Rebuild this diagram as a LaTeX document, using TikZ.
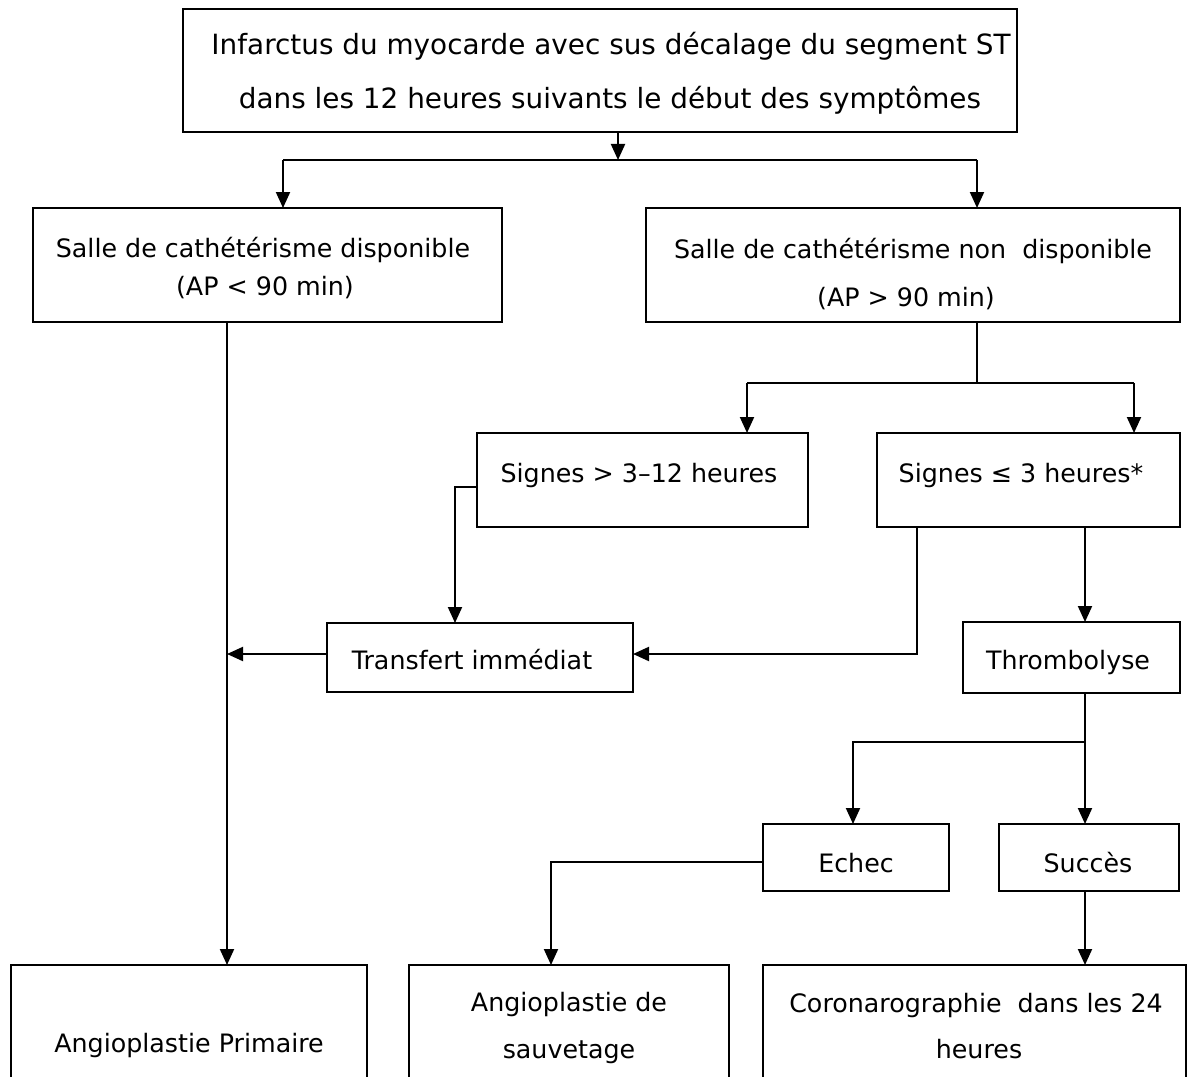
\documentclass[tikz,border=0pt]{standalone}
\usepackage{fontspec}
\setmainfont{DejaVu Sans}
\usetikzlibrary{fit,arrows.meta}
\tikzset{
  box/.style={draw, line width=1.5pt, inner sep=0pt, outer sep=0pt, rectangle},
  txt/.style={inner sep=0pt, anchor=base, font=\fontsize{19}{23}\selectfont},
  bigtxt/.style={txt, font=\fontsize{20.9}{25}\selectfont},
  arr/.style={line width=1.5pt, -{Triangle[length=12pt,width=10.5pt]}},
  ln/.style={line width=1.5pt}
}
\begin{document}
\begin{tikzpicture}[x=0.75pt,y=-0.75pt]
\useasboundingbox (0,0) rectangle (1188,1077);
\clip (0,0) rectangle (1188,1077);
% boxes
\node[box, fit={(183,9) (1017,132)}] (top) {};
\node[box, fit={(33,208) (502,322)}] (sal1) {};
\node[box, fit={(646,208) (1180,322)}] (sal2) {};
\node[box, fit={(477,433) (808,527)}] (sig1) {};
\node[box, fit={(877,433) (1180,527)}] (sig2) {};
\node[box, fit={(327,623) (633,692)}] (trans) {};
\node[box, fit={(963,622) (1180,693)}] (thromb) {};
\node[box, fit={(763,824) (949,891)}] (echec) {};
\node[box, fit={(999,824) (1179,891)}] (succes) {};
\node[box, fit={(11,965) (367,1110)}] (prim) {};
\node[box, fit={(409,965) (729,1110)}] (sauv) {};
\node[box, fit={(763,965) (1186,1110)}] (coro) {};
% texts
\node[bigtxt] (t1a) at (611,55) {Infarctus du myocarde avec sus décalage du segment ST};
\node[bigtxt] (t1b) at (610,109) {dans les 12 heures suivants le début des symptômes};
\node[txt] (t2a) at (263,257) {Salle de cathétérisme disponible};
\node[txt] (t2b) at (265,295) {(AP < 90 min)};
\node[txt] (t3a) at (913,258) {Salle de cathétérisme non\ \ disponible};
\node[txt] (t3b) at (906,306) {(AP > 90 min)};
\node[txt] (t4) at (639,482) {Signes > 3–12 heures};
\node[txt] (t5) at (1021,482) {Signes ≤ 3 heures*};
\node[txt] (t6) at (472,669) {Transfert immédiat};
\node[txt] (t7) at (1068,669) {Thrombolyse};
\node[txt] (t8) at (856,872) {Echec};
\node[txt] (t9) at (1088,872) {Succès};
\node[txt] (t10) at (189,1052) {Angioplastie Primaire};
\node[txt] (t11a) at (569,1011) {Angioplastie de};
\node[txt] (t11b) at (569,1058) {sauvetage};
\node[txt] (t12a) at (976,1012) {Coronarographie\ \ dans les 24};
\node[txt] (t12b) at (979,1058) {heures};
% junction coordinates
\coordinate (j1) at (618,160);
\coordinate (j1L) at (283,160);
\coordinate (j1R) at (977,160);
\coordinate (vL) at (227,0);
\coordinate (j2) at (977,383);
\coordinate (j2L) at (747,383);
\coordinate (j2R) at (1134,383);
\coordinate (k1) at (455,487);
\coordinate (k2) at (917,654);
\coordinate (v3) at (1085,0);
\coordinate (j3) at (1085,742);
\coordinate (j3L) at (853,742);
\coordinate (k3) at (551,862);
% connectors
\draw[arr] (top.south -| j1) -- (j1);
\draw[ln] (j1L) -- (j1R);
\draw[arr] (j1L) -- (j1L |- sal1.north);
\draw[arr] (j1R) -- (j1R |- sal2.north);
\draw[arr] (sal1.south -| vL) -- (prim.north -| vL);
\draw[ln] (sal2.south -| j2) -- (j2);
\draw[ln] (j2L) -- (j2R);
\draw[arr] (j2L) -- (j2L |- sig1.north);
\draw[arr] (j2R) -- (j2R |- sig2.north);
\draw[arr] (sig1.west |- k1) -- (k1) -- (k1 |- trans.north);
\draw[arr] (sig2.south -| k2) -- (k2) -- (trans.east |- k2);
\draw[arr] (trans.west |- k2) -- (vL |- k2);
\draw[arr] (sig2.south -| v3) -- (thromb.north -| v3);
\draw[ln] (thromb.south -| j3) -- (j3);
\draw[arr] (j3) -- (j3L) -- (j3L |- echec.north);
\draw[arr] (j3) -- (succes.north -| j3);
\draw[arr] (echec.west |- k3) -- (k3) -- (k3 |- sauv.north);
\draw[arr] (succes.south -| v3) -- (coro.north -| v3);
\end{tikzpicture}
\end{document}
